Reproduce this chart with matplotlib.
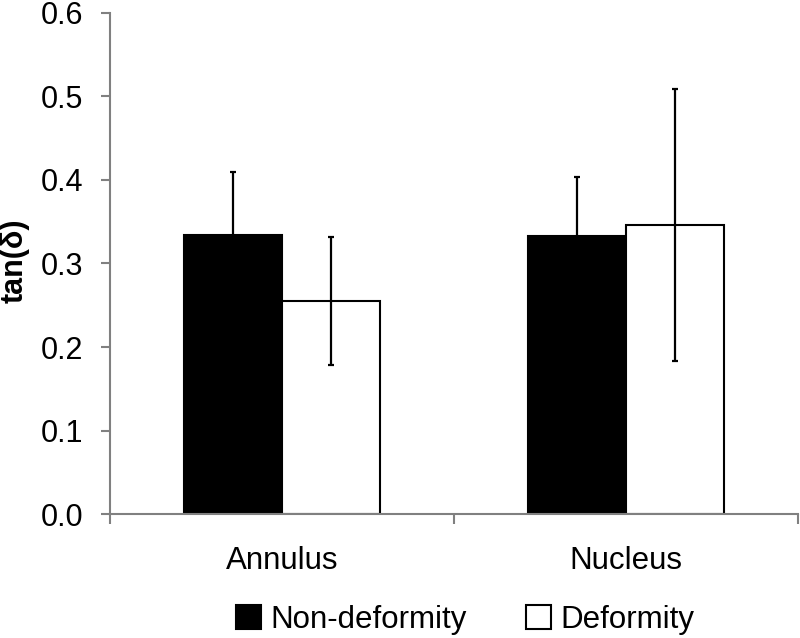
import matplotlib
matplotlib.use('Agg')
import matplotlib.pyplot as plt
from matplotlib.patches import Patch
import numpy as np

plt.rcParams['font.family'] = ['Liberation Sans', 'DejaVu Sans']

# data
categories = ['Annulus', 'Nucleus']
non_deformity = [0.334, 0.333]
non_deformity_err = [0.075, 0.070]
deformity = [0.255, 0.346]
deformity_err = [0.077, 0.163]
series_labels = ['Non-deformity', 'Deformity']
y_ticks = [0.0, 0.1, 0.2, 0.3, 0.4, 0.5, 0.6]

axis_grey = '#808080'
width = 0.286
x = np.arange(len(categories))

fig = plt.figure(figsize=(8.0, 6.38), dpi=100)
ax = fig.add_axes([0.138, 0.194, 0.859, 0.786])

err_kw = dict(ecolor='black', elinewidth=1.6, capsize=2.2, capthick=1.6)
ax.bar(x - width / 2, non_deformity, width, yerr=non_deformity_err,
       color='black', edgecolor='black', linewidth=1.5, error_kw=err_kw, zorder=2)
ax.bar(x + width / 2, deformity, width, yerr=deformity_err,
       color='white', edgecolor='black', linewidth=1.5, error_kw=err_kw, zorder=2)

ax.set_xlim(-0.5, len(categories) - 0.5)
ax.set_ylim(0, 0.6)
ax.set_yticks(y_ticks)
ax.set_yticklabels(['%.1f' % t for t in y_ticks])

# category boundaries as major ticks, names as minor ticks
ax.set_xticks(np.arange(len(categories) + 1) - 0.5)
ax.set_xticklabels([])
ax.set_xticks(x, minor=True)
ax.set_xticklabels(categories, minor=True)
ax.tick_params(axis='x', which='minor', length=0, pad=23, labelsize=22.5)
ax.tick_params(axis='x', which='major', length=7, width=1.5, color=axis_grey, direction='out')
ax.tick_params(axis='y', length=6.5, width=1.5, color=axis_grey, direction='out', pad=13, labelsize=22)

for side in ['top', 'right']:
    ax.spines[side].set_visible(False)
for side in ['left', 'bottom']:
    ax.spines[side].set_color(axis_grey)
    ax.spines[side].set_linewidth(1.5)

ax.set_ylabel('tan(\u03b4)', fontsize=22, fontweight='bold')
ax.yaxis.set_label_coords(-0.117, 0.505)

handles = [Patch(facecolor='black', edgecolor='black', linewidth=1.5),
           Patch(facecolor='white', edgecolor='black', linewidth=1.5)]
fig.legend(handles, series_labels, loc='center', bbox_to_anchor=(0.581, 0.028),
           ncol=2, frameon=False, fontsize=22.5, handlelength=0.8, handleheight=0.8,
           handletextpad=0.3, columnspacing=1.9)

fig.savefig('out.png', dpi=100)
